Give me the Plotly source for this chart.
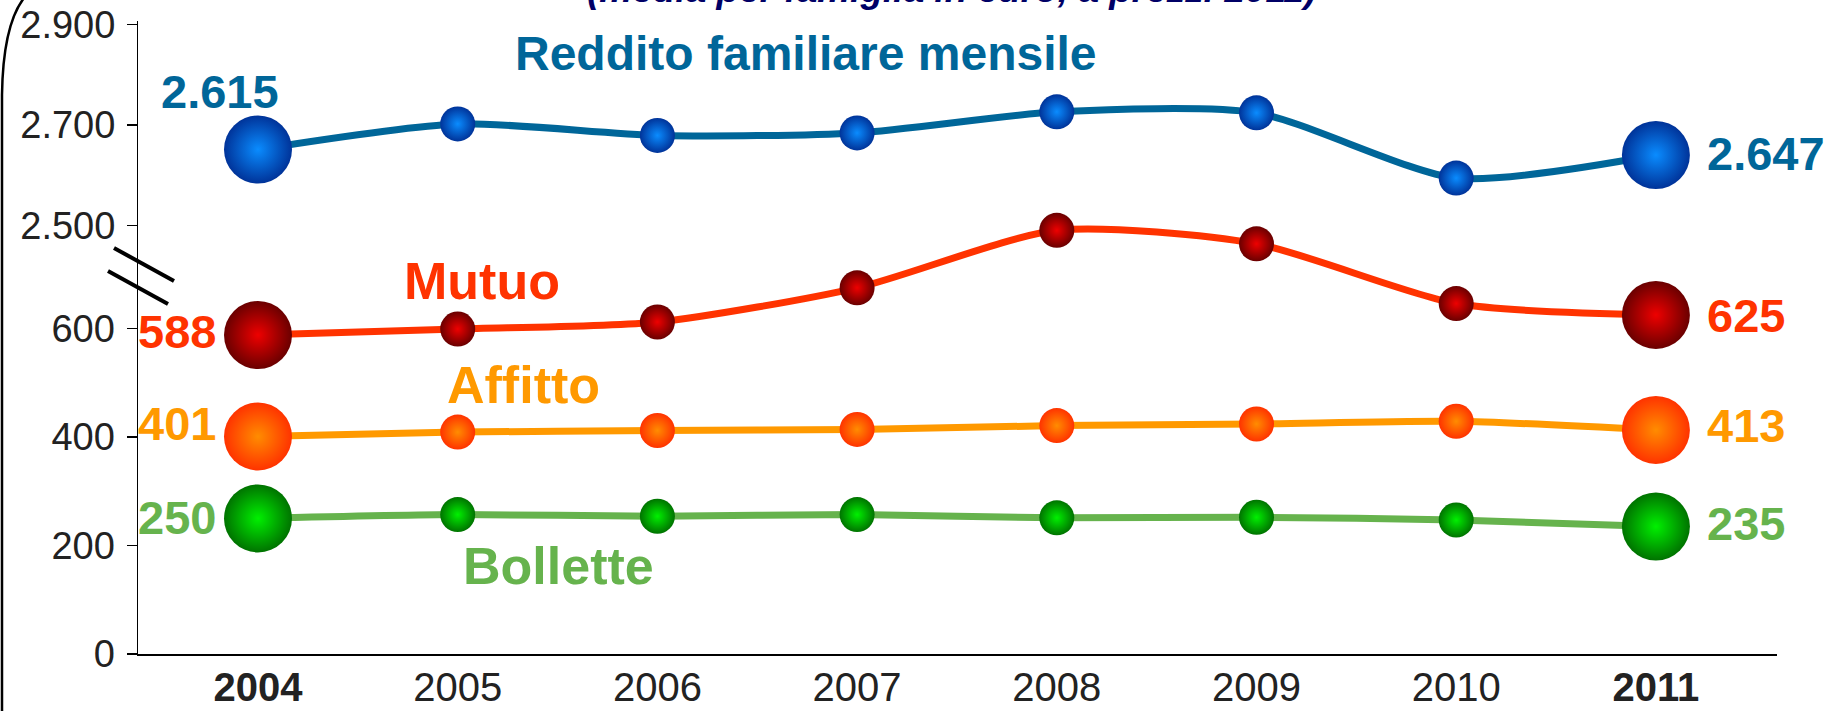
import plotly.graph_objects as go

# ---------------- data ----------------
years = [2004, 2005, 2006, 2007, 2008, 2009, 2010, 2011]
year_labels = ["<b>2004</b>", "2005", "2006", "2007", "2008", "2009", "2010", "<b>2011</b>"]

reddito = [2651, 2702, 2679, 2684, 2726, 2724, 2594, 2640]
mutuo = [588, 599, 612, 675, 781, 756, 646, 625]
affitto = [401, 409, 412, 414, 421, 424, 429, 413]
bollette = [250, 257, 254, 257, 251, 252, 247, 235]

lower_ticks = [0, 200, 400, 600]
upper_ticks = [2500, 2700, 2900]

start_labels = ["2.615", "588", "401", "250"]
end_labels = ["2.647", "625", "413", "235"]
series_names = ["Reddito familiare mensile", "Mutuo", "Affitto", "Bollette"]
subtitle = "(media per famiglia in euro, a prezzi 2011)"

# ---------------- layout helpers ----------------
W, H = 1837, 711
L, R, T, B = 138, 60, 21, 57
PW, PH = W - L - R, H - T - B
FONT = "Liberation Sans, Arial, sans-serif"


def pp(x, y):
    """pixel -> paper coordinates"""
    return (x - L) / PW, (H - B - y) / PH


BIG, SMALL = 68, 35

fig = go.Figure()


def add_series(vals, yaxis, line_color, c_center, c_edge):
    sizes = [BIG] + [SMALL] * (len(vals) - 2) + [BIG]
    # plotly radial gradient: gradient.color at the centre, marker.color at the rim
    fig.add_trace(go.Scatter(
        x=years, y=vals, yaxis=yaxis, mode="lines+markers",
        line=dict(color=line_color, width=7, shape="spline", smoothing=0.7),
        marker=dict(size=sizes, color=c_edge, opacity=1,
                    gradient=dict(type="radial", color=c_center),
                    line=dict(width=0)),
        cliponaxis=False, hoverinfo="skip", showlegend=False))


C_RED = "#006699"
C_MUT = "#FF3300"
C_AFF = "#FF9900"
C_BOL = "#66B34D"

add_series(reddito, "y2", C_RED, "#0a8cff", "#003399")
add_series(mutuo, "y", C_MUT, "#ee0000", "#6a0000")
add_series(affitto, "y", C_AFF, "#ff8c00", "#ff3300")
add_series(bollette, "y", C_BOL, "#00f000", "#007300")

ann = []
# value labels at the ends
val_font = dict(family=FONT, size=47, weight="bold")
series_vals = [reddito, mutuo, affitto, bollette]
series_axes = ["y2", "y", "y", "y"]
series_cols = [C_RED, C_MUT, C_AFF, C_BOL]
start_shift = [(-38, 58, "center"), (-40, 4, "right"), (-40, 13, "right"), (-40, 1, "right")]
end_shift = [2, -1, 4, 3]
for i in range(4):
    dx, dy, anc = start_shift[i]
    ann.append(dict(x=years[0], y=series_vals[i][0], xref="x", yref=series_axes[i],
                    text=start_labels[i], showarrow=False, xanchor=anc, yanchor="middle",
                    xshift=dx, yshift=dy, font=dict(val_font, color=series_cols[i])))
    ann.append(dict(x=years[-1], y=series_vals[i][-1], xref="x", yref=series_axes[i],
                    text=end_labels[i], showarrow=False, xanchor="left", yanchor="middle",
                    xshift=49, yshift=end_shift[i], font=dict(val_font, color=series_cols[i])))

# series names
name_pos = [(806, 54, 48), (482, 281, 52), (523, 385, 52), (558, 566, 52)]
for i, (px, py, fs) in enumerate(name_pos):
    x, y = pp(px, py)
    ann.append(dict(x=x, y=y, xref="paper", yref="paper", text=series_names[i],
                    showarrow=False, xanchor="center", yanchor="middle",
                    font=dict(family=FONT, size=fs, color=series_cols[i], weight="bold")))

# subtitle (cut off at the top as in the original)
sx, sy = pp(951, -11)
ann.append(dict(x=sx, y=sy, xref="paper", yref="paper", text=subtitle, showarrow=False,
                xanchor="center", yanchor="middle",
                font=dict(family=FONT, size=37, color="#000066", weight="bold", style="italic")))

# shapes: axis break marks and left bracket curve
shapes = []
for (x0, y0, x1, y1) in [(114, 248, 174, 281), (108, 271, 168, 304)]:
    a = pp(x0, y0)
    b = pp(x1, y1)
    shapes.append(dict(type="line", xref="paper", yref="paper", x0=a[0], y0=a[1],
                       x1=b[0], y1=b[1], line=dict(color="black", width=4)))
p1 = pp(24, -2)
p2 = pp(3, 25)
p3 = pp(2, 95)
p4 = pp(2, 712)
shapes.append(dict(type="path", xref="paper", yref="paper",
                   path=f"M {p1[0]},{p1[1]} Q {p2[0]},{p2[1]} {p3[0]},{p3[1]} L {p4[0]},{p4[1]}",
                   line=dict(color="black", width=2.5)))

# axes ranges from pixel geometry
lower_scale = 0.5425  # px per unit
upper_scale = 0.50175
y_range = [0, PH / lower_scale]
y2_lo = 2700 - (H - B - 124.9) / upper_scale
y2_hi = 2700 + (124.9 - T) / upper_scale

x_px_2004 = 258
x_slope = 199.7
x_lo = 2004 - (x_px_2004 - L) / x_slope
x_hi = 2004 + (L + PW - x_px_2004) / x_slope

tick_font = dict(family=FONT, size=38, color="#222222")

fig.update_layout(
    template="none",
    width=W, height=H, autosize=False,
    margin=dict(l=L, r=R, t=T, b=B, pad=0, autoexpand=False),
    paper_bgcolor="white", plot_bgcolor="white",
    separators=",.",
    showlegend=False, hovermode=False,
    font=dict(family=FONT),
    xaxis=dict(range=[x_lo, x_hi], tickmode="array", tickvals=years, ticktext=year_labels,
               showline=True, linecolor="black", linewidth=2, ticks="",
               tickfont=dict(tick_font, size=40), showgrid=False, zeroline=False,
               ticklabelstandoff=-3, fixedrange=True, automargin=False),
    yaxis=dict(range=y_range, tickmode="array", tickvals=lower_ticks,
               showline=True, linecolor="black", linewidth=1.5,
               ticks="outside", ticklen=10, tickwidth=1.5, tickcolor="black",
               tickfont=tick_font, showgrid=False, zeroline=False, ticklabelstandoff=4,
               fixedrange=True, automargin=False),
    yaxis2=dict(range=[y2_lo, y2_hi], overlaying="y", side="left", anchor="x",
                tickmode="array", tickvals=upper_ticks, tickformat=",d",
                showline=False, ticks="outside", ticklen=10, tickwidth=1.5, tickcolor="black",
                tickfont=tick_font, showgrid=False, zeroline=False, ticklabelstandoff=4,
                fixedrange=True, automargin=False),
    annotations=ann,
    shapes=shapes,
)

fig.write_html(
    "out.html",
    config={"displayModeBar": False, "staticPlot": True},
    post_script="document.body.style.margin='0';document.body.style.padding='0';"
                "document.body.style.overflow='hidden';",
)
